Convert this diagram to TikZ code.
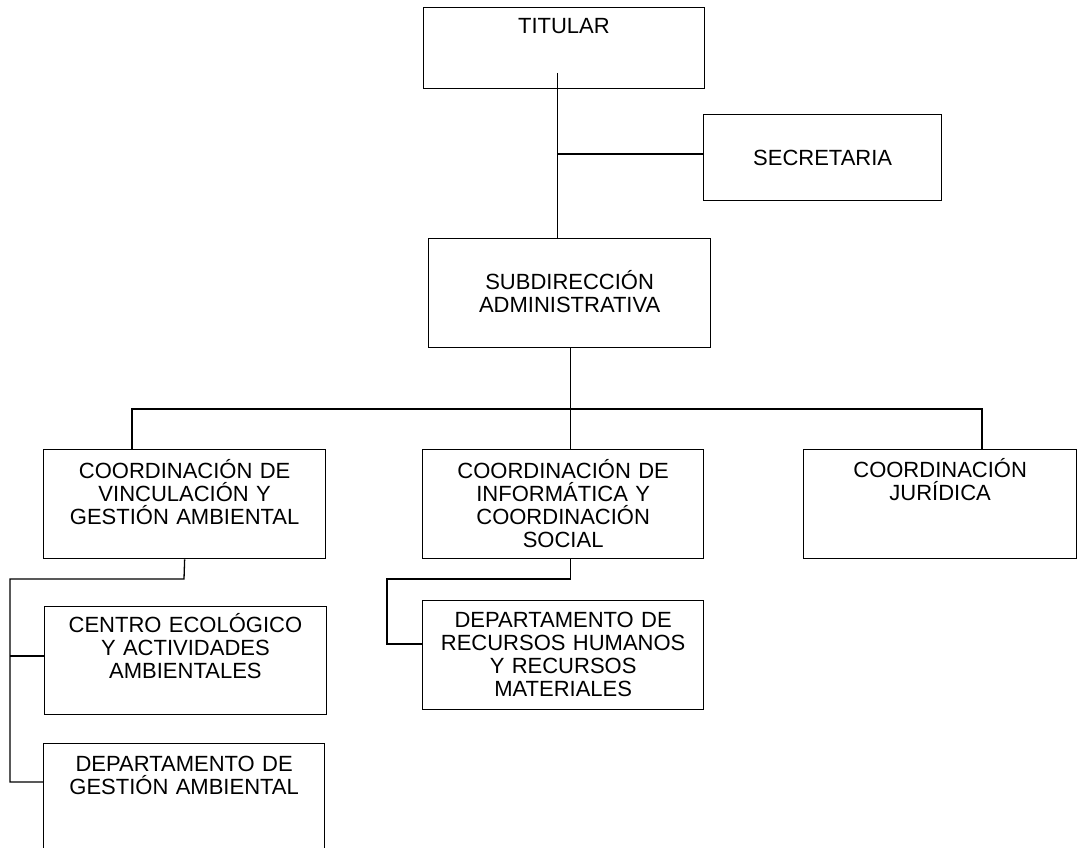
\documentclass[tikz,border=0pt]{standalone}
\usepackage{fontspec}
\setmainfont{Liberation Sans}
\begin{document}
\begin{tikzpicture}[x=1pt,y=-1pt,
  box/.style={draw,line width=1.3pt,inner sep=0pt,anchor=north west},
  txt/.style={font=\fontsize{22}{23}\selectfont,align=center,text width=275pt,inner sep=0pt,anchor=base},
  conn/.style={line width=1.3pt}]
\path[use as bounding box,clip] (0,0) rectangle (1077,848);
% boxes
\node[box,minimum width=281.5pt,minimum height=81pt] (tit) at (422.5,7) {};
\node[box,minimum width=238pt,minimum height=86pt] (sec) at (703,114) {};
\node[box,minimum width=282pt,minimum height=109pt] (sub) at (428,238) {};
\node[box,minimum width=282pt,minimum height=109pt] (cl) at (43,449) {};
\node[box,minimum width=281pt,minimum height=109pt] (cm) at (422,449) {};
\node[box,minimum width=273pt,minimum height=109pt] (cj) at (803,449) {};
\node[box,minimum width=281.5pt,minimum height=108pt] (ce) at (44,606) {};
\node[box,minimum width=281pt,minimum height=140pt] (dg) at (43,743) {};
\node[box,minimum width=281pt,minimum height=109pt] (rh) at (422,600) {};
% texts
\node[txt] (titT) at ([yshift=-27pt]tit.north) {TITULAR};
\node[txt] (secT) at ([yshift=-52pt]sec.north) {SECRETARIA};
\node[txt] (subT) at ([yshift=-51pt]sub.north) {SUBDIRECCIÓN\\ADMINISTRATIVA};
\node[txt] (clT) at ([yshift=-29pt]cl.north) {COORDINACIÓN DE\\VINCULACIÓN Y\\GESTIÓN AMBIENTAL};
\node[txt] (cmT) at ([yshift=-29pt]cm.north) {COORDINACIÓN DE\\INFORMÁTICA Y\\COORDINACIÓN\\SOCIAL};
\node[txt] (cjT) at ([yshift=-28pt]cj.north) {COORDINACIÓN\\JURÍDICA};
\node[txt] (ceT) at ([yshift=-26pt]ce.north) {CENTRO ECOLÓGICO\\Y ACTIVIDADES\\AMBIENTALES};
\node[txt] (dgT) at ([yshift=-28pt]dg.north) {DEPARTAMENTO DE\\GESTIÓN AMBIENTAL};
\node[txt] (rhT) at ([yshift=-27pt]rh.north) {DEPARTAMENTO DE\\RECURSOS HUMANOS\\Y RECURSOS\\MATERIALES};
% connector points
\coordinate (t1) at (557.5,73);
\coordinate (s1) at (557.5,154);
\coordinate (bus) at (570.5,409);
\coordinate (busL) at (132,409);
\coordinate (busR) at (982,409);
\coordinate (lc) at (184,579);
\coordinate (lx) at (10,579);
\coordinate (lce) at (10,656);
\coordinate (ldg) at (10,782);
\coordinate (mc) at (570.5,579);
\coordinate (mx) at (387,579);
\coordinate (mrh) at (387,644);
% connectors
\draw[conn] (t1) -- (t1 |- sub.north);
\draw[conn] (s1) -- (s1 -| sec.west);
\draw[conn] (bus |- sub.south) -- (bus |- cm.north);
\draw[conn] (busL |- cl.north) -- (busL) -- (busR) -- (busR |- cj.north);
\draw[conn] (cl.south) -- (lc) -- (lx) -- (ldg) -- (ldg -| dg.west);
\draw[conn] (lce) -- (lce -| ce.west);
\draw[conn] (mc |- cm.south) -- (mc) -- (mx) -- (mrh) -- (mrh -| rh.west);
\end{tikzpicture}
\end{document}
